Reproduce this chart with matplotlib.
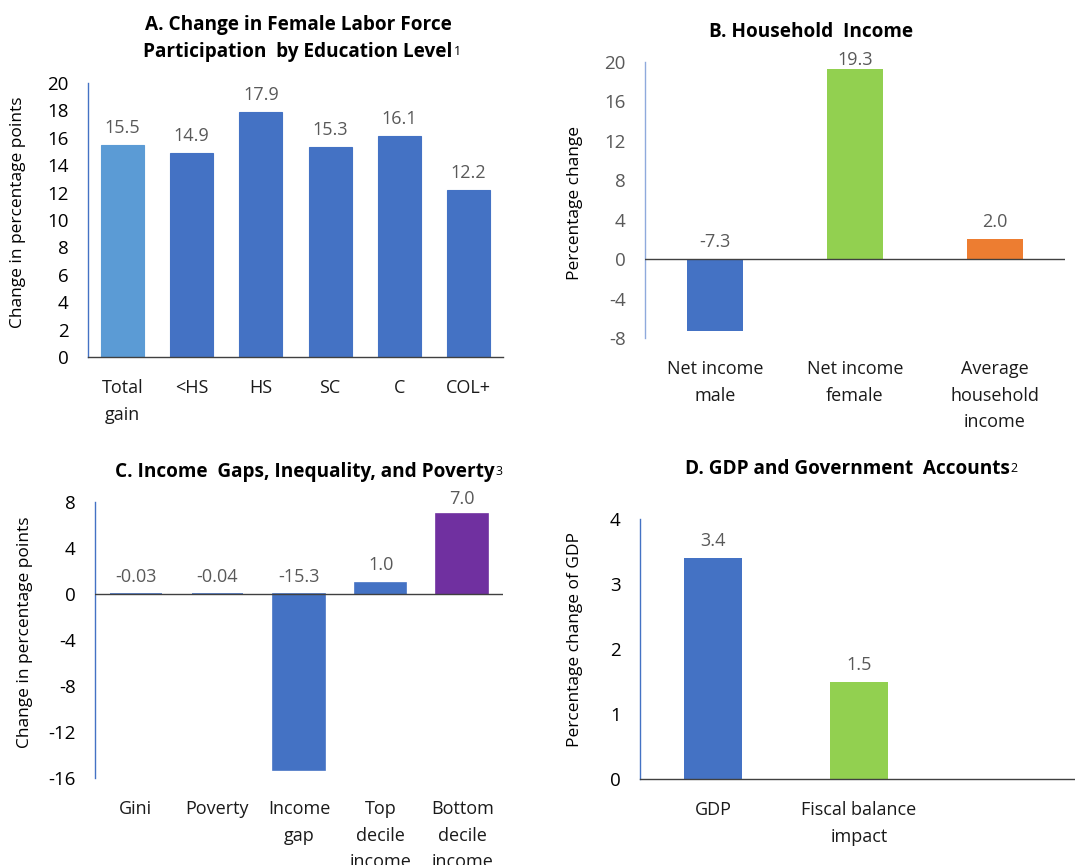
import matplotlib.pyplot as plt

plt.rcParams['font.family'] = ['Open Sans', 'DejaVu Sans']
plt.rcParams['axes.unicode_minus'] = False

W, H = 1075, 865

# ================= 数据 =================
edu_labels = ['Total\ngain', '<HS', 'HS', 'SC', 'C', 'COL+']
edu_values = [15.5, 14.9, 17.9, 15.3, 16.1, 12.2]
edu_text = ['15.5', '14.9', '17.9', '15.3', '16.1', '12.2']

inc_labels = ['Net income\nmale', 'Net income\nfemale', 'Average\nhousehold\nincome']
inc_values = [-7.3, 19.3, 2.0]
inc_text = ['-7.3', '19.3', '2.0']

gap_labels = ['Gini', 'Poverty', 'Income\ngap', 'Top\ndecile\nincome', 'Bottom\ndecile\nincome']
gap_values = [-0.03, -0.04, -15.3, 1.0, 7.0]
gap_text = ['-0.03', '-0.04', '-15.3', '1.0', '7.0']

gdp_labels = ['GDP', 'Fiscal balance\nimpact']
gdp_values = [3.4, 1.5]
gdp_text = ['3.4', '1.5']

BLUE = '#4472C4'
LIGHT_BLUE = '#5B9BD5'
GREEN = '#92D050'
ORANGE = '#ED7D31'
PURPLE = '#7030A0'
LABEL_GRAY = '#595959'

fig = plt.figure(figsize=(W / 100, H / 100), dpi=100)


def px_axes(left, top, right, bottom):
    return fig.add_axes([left / W, 1 - bottom / H, (right - left) / W, (bottom - top) / H])


def style(ax, spine_color, tick_color, zero_line):
    for s in ['top', 'right']:
        ax.spines[s].set_visible(False)
    ax.spines['left'].set_color(spine_color)
    ax.spines['left'].set_linewidth(1.0)
    if zero_line:
        ax.spines['bottom'].set_visible(False)
        ax.axhline(0, color='#404040', lw=1.0, zorder=3)
    else:
        ax.spines['bottom'].set_color('#404040')
        ax.spines['bottom'].set_linewidth(1.0)
    ax.tick_params(axis='both', length=0)
    ax.tick_params(axis='y', labelsize=13.5, labelcolor=tick_color, pad=14)
    ax.tick_params(axis='x', labelsize=13, labelcolor='#1a1a1a', pad=16)
    for lab in ax.get_xticklabels():
        lab.set_linespacing(1.6)
        lab.set_verticalalignment('top')


def ylabel(ax, text, right_px, frac):
    ax.set_ylabel(text, fontsize=12.5)
    left = ax.get_position().x0 * W
    ax.yaxis.set_label_coords((right_px - left) / (ax.get_position().width * W), frac)


def bar_labels(ax, values, texts, offset=17, top_pad=2.5):
    y0, y1 = ax.get_ylim()
    per = ax.get_position().height * H / (y1 - y0)
    for i, (v, t) in enumerate(zip(values, texts)):
        y = max(v, 0) + offset / per
        y = min(y, y1 + top_pad / per)
        ax.text(i, y, t, ha='center', va='center', fontsize=13, color=LABEL_GRAY, clip_on=False)


def title(x, ys, lines, sup):
    t = None
    for y, line in zip(ys, lines):
        t = fig.text(x / W, 1 - y / H, line, ha='center', va='center', fontsize=13.7,
                     fontweight='bold')
    if sup:
        fig.canvas.draw()
        bb = t.get_window_extent()
        fig.text((bb.x1 + 1) / W, (bb.y1 - 3) / H, sup, fontsize=9, va='top', ha='left')


# ---- A ----
axA = px_axes(88, 83, 503, 357)
axA.bar(range(len(edu_values)), edu_values, width=0.62,
        color=[LIGHT_BLUE] + [BLUE] * (len(edu_values) - 1),
        edgecolor=[LIGHT_BLUE] + [BLUE] * (len(edu_values) - 1), linewidth=0.8)
axA.set_xlim(-0.5, len(edu_values) - 0.5)
axA.set_ylim(0, 20)
axA.set_yticks(range(0, 21, 2))
axA.set_xticks(range(len(edu_labels)), edu_labels)
style(axA, BLUE, '#000000', False)
ylabel(axA, 'Change in percentage points', 26, 0.529)
bar_labels(axA, edu_values, edu_text)

# ---- B ----
axB = px_axes(645, 62, 1065, 338)
axB.bar(range(len(inc_values)), inc_values, width=0.4, color=[BLUE, GREEN, ORANGE])
axB.set_xlim(-0.5, 2.5)
axB.set_ylim(-8, 20)
axB.set_yticks(range(-8, 21, 4))
axB.set_xticks(range(len(inc_labels)), inc_labels)
style(axB, '#8FAADC', LABEL_GRAY, True)
ylabel(axB, 'Percentage change', 583, 0.489)
bar_labels(axB, inc_values, inc_text)

# ---- C ----
axC = px_axes(95, 502, 503, 778)
gap_colors = [BLUE] * (len(gap_values) - 1) + [PURPLE]
axC.bar(range(len(gap_values)), gap_values, width=0.63,
        color=gap_colors, edgecolor=gap_colors, linewidth=1.2)
axC.set_xlim(-0.5, len(gap_values) - 0.5)
axC.set_ylim(-16, 8)
axC.set_yticks(range(-16, 9, 4))
axC.set_xticks(range(len(gap_labels)), gap_labels)
style(axC, BLUE, '#000000', True)
ylabel(axC, 'Change in percentage points', 33, 0.529)
bar_labels(axC, gap_values, gap_text)

# ---- D ----
axD = px_axes(640, 519, 1078, 779)
axD.bar(range(len(gdp_values)), gdp_values, width=0.4, color=[BLUE, GREEN])
axD.set_xlim(-0.5, 2.5)
axD.set_ylim(0, 4)
axD.set_yticks(range(0, 5))
axD.set_xticks(range(len(gdp_labels)), gdp_labels)
style(axD, BLUE, '#000000', False)
ylabel(axD, 'Percentage change of GDP', 583, 0.535)
bar_labels(axD, gdp_values, gdp_text)

# ---- 标题 ----
title(298, [25, 52], ['A. Change in Female Labor Force',
                      'Participation  by Education Level'], '1')
title(811, [32], ['B. Household  Income'], '')
title(305, [472], ['C. Income  Gaps, Inequality, and Poverty'], '3')
title(847, [469], ['D. GDP and Government  Accounts'], '2')

fig.savefig('out.png', dpi=100)
